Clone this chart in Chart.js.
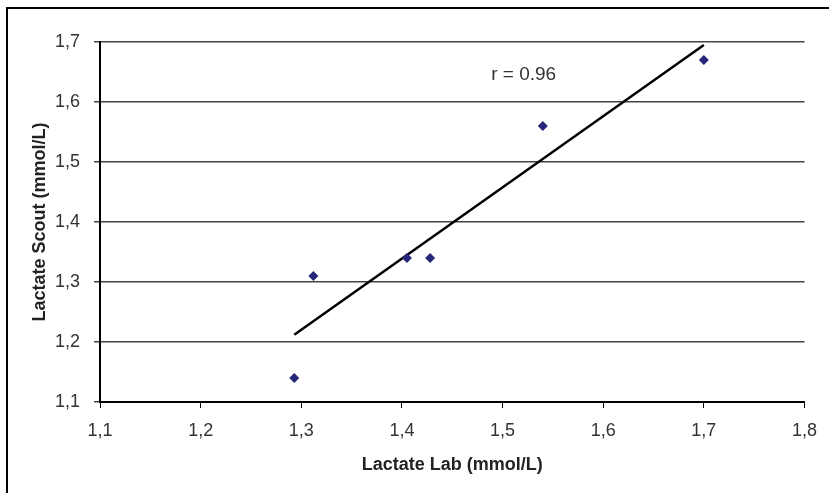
<!DOCTYPE html>
<html>
<head>
<meta charset="utf-8">
<script src="https://cdn.jsdelivr.net/npm/chart.js@4.4.0/dist/chart.umd.min.js"></script>
<style>
  body { margin: 0; background: #fff; }
  .wrap { position: relative; width: 829px; height: 493px; }
  .frame { position: absolute; left: 6px; top: 7px; right: 0; bottom: 0; border-top: 2px solid #000; border-left: 2px solid #000; pointer-events: none; }
  canvas { position: absolute; left: 0; top: 0; }
</style>
</head>
<body>
<div class="wrap">
  <canvas id="chart" width="829" height="493"></canvas>
  <div class="frame"></div>
</div>
<script>
// measured values
const labX = [1.293, 1.312, 1.405, 1.428, 1.540, 1.700];
const scoutY = [1.14, 1.31, 1.34, 1.34, 1.56, 1.67];
// regression line end points
const fitX = [1.293, 1.700];
const fitY = [1.212, 1.695];
const rLabel = "r = 0.96";
const rPos = [1.521, 1.645];
const xTicks = [1.1, 1.2, 1.3, 1.4, 1.5, 1.6, 1.7, 1.8];
const yTicks = [1.1, 1.2, 1.3, 1.4, 1.5, 1.6, 1.7];

const fmt = (v) => Number(v).toFixed(1).replace(".", ",");
const FONT = "'Liberation Sans', Arial, sans-serif";

const noteText = {
  id: "noteText",
  afterDatasetsDraw(chart) {
    const ctx = chart.ctx;
    const x = chart.scales.x.getPixelForValue(rPos[0]);
    const y = chart.scales.y.getPixelForValue(rPos[1]);
    ctx.save();
    ctx.font = "19px " + FONT;
    ctx.fillStyle = "#333";
    ctx.textAlign = "center";
    ctx.textBaseline = "middle";
    ctx.fillText(rLabel, x, y);
    ctx.restore();
  }
};

new Chart(document.getElementById("chart"), {
  type: "scatter",
  data: {
    datasets: [
      {
        label: "Lactate",
        data: labX.map((x, i) => ({ x: x, y: scoutY[i] })),
        pointStyle: "rectRot",
        pointRadius: 5,
        backgroundColor: "#26267a",
        borderColor: "#26267a",
        borderWidth: 0
      },
      {
        label: "fit",
        type: "line",
        data: fitX.map((x, i) => ({ x: x, y: fitY[i] })),
        borderColor: "#000",
        borderWidth: 2.5,
        pointRadius: 0,
        fill: false
      }
    ]
  },
  options: {
    responsive: false,
    animation: false,
    layout: { padding: { top: 42, right: 24, left: 0, bottom: 0 } },
    plugins: { legend: { display: false }, tooltip: { enabled: false } },
    scales: {
      x: {
        type: "linear",
        min: 1.1,
        max: 1.8,
        afterBuildTicks: (s) => { s.ticks = xTicks.map(v => ({ value: v })); },
        afterFit: (s) => { s.height = 91; },
        ticks: { callback: fmt, color: "#333", font: { family: FONT, size: 18 }, padding: 12, maxRotation: 0 },
        grid: { drawOnChartArea: false, tickLength: 6, color: "#000" },
        border: { color: "#000", width: 2 },
        title: { display: true, text: "Lactate Lab (mmol/L)", color: "#222", font: { family: FONT, size: 18, weight: "bold" }, padding: { top: 0, bottom: 17 } }
      },
      y: {
        type: "linear",
        min: 1.1,
        max: 1.7,
        afterBuildTicks: (s) => { s.ticks = yTicks.map(v => ({ value: v })); },
        afterFit: (s) => { s.width = 100; },
        ticks: { callback: fmt, color: "#333", font: { family: FONT, size: 18 }, padding: 14 },
        grid: { color: "#444", lineWidth: 1.5, tickLength: 6 },
        border: { color: "#000", width: 2 },
        title: { display: true, text: "Lactate Scout (mmol/L)", color: "#222", font: { family: FONT, size: 18, weight: "bold" }, padding: { top: 29, bottom: 0 } }
      }
    }
  },
  plugins: [noteText]
});
</script>
</body>
</html>
